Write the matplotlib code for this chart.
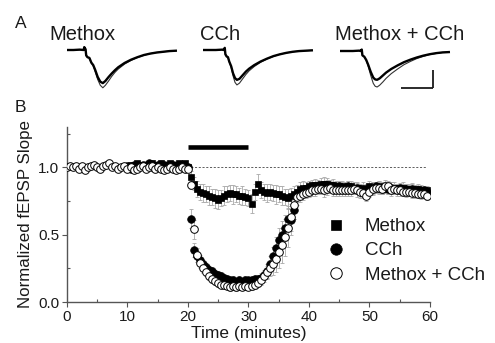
import numpy as np
import matplotlib
matplotlib.use("Agg")
import matplotlib.pyplot as plt

plt.rcParams['font.family'] = ['Liberation Sans', 'DejaVu Sans']

# ---------------- data: panel B ----------------
t_open = np.arange(0, 60, 0.5)
t_drug = np.arange(10, 60, 0.5)

methox_cch = [1.00,1.01,1.00,1.01,0.99,1.01,0.98,1.00,1.01,1.02,1.00,0.99,1.01,1.02,1.03,1.00,1.01,0.99,1.00,1.01,
              0.99,1.00,0.98,0.99,1.00,1.01,0.99,1.00,1.01,0.99,1.00,0.99,0.98,0.99,1.00,0.99,0.98,0.99,1.00,0.99,
              0.99,0.87,0.54,0.35,0.29,0.25,0.22,0.19,0.17,0.155,0.14,0.13,0.125,0.12,0.115,0.12,0.11,0.12,0.115,0.12,
              0.115,0.12,0.13,0.14,0.16,0.19,0.22,0.25,0.28,0.32,0.37,0.42,0.48,0.55,0.63,0.72,0.78,0.79,0.80,0.81,
              0.82,0.83,0.83,0.84,0.84,0.83,0.84,0.85,0.83,0.83,0.83,0.83,0.83,0.83,0.83,0.84,0.83,0.82,0.81,0.79,
              0.82,0.84,0.85,0.85,0.84,0.86,0.86,0.83,0.84,0.83,0.83,0.82,0.82,0.82,0.81,0.81,0.80,0.80,0.80,0.79]
methox_cch_err = [0.01,0.015,0.01,0.015,0.01,0.02,0.01,0.015,0.01,0.02,0.015,0.01,0.015,0.02,0.015,0.01,0.015,0.01,0.015,0.01,
                  0.02,0.015,0.025,0.02,0.015,0.02,0.02,0.015,0.02,0.015,0.02,0.015,0.02,0.015,0.02,0.015,0.02,0.015,0.02,0.015,
                  0.02,0.03,0.07,0.05,0.04,0.035,0.03,0.03,0.03,0.03,0.025,0.025,0.03,0.025,0.03,0.025,0.025,0.03,0.025,0.03,
                  0.025,0.03,0.03,0.03,0.035,0.04,0.05,0.06,0.08,0.10,0.12,0.13,0.14,0.14,0.13,0.10,0.06,0.05,0.04,0.04,
                  0.04,0.04,0.045,0.04,0.04,0.05,0.045,0.04,0.04,0.04,0.045,0.04,0.04,0.045,0.04,0.04,0.05,0.045,0.04,0.04,
                  0.04,0.045,0.04,0.05,0.04,0.045,0.04,0.04,0.035,0.04,0.04,0.035,0.04,0.035,0.04,0.035,0.03,0.035,0.03,0.03]

cch = [1.01,0.99,1.02,1.00,1.01,1.02,1.01,1.03,1.00,1.01,1.02,1.01,1.02,1.01,1.00,1.02,1.01,1.00,1.01,1.00,
       1.00,0.62,0.385,0.34,0.31,0.28,0.26,0.24,0.23,0.21,0.20,0.19,0.18,0.17,0.16,0.16,0.15,0.16,0.15,0.16,
       0.16,0.16,0.17,0.17,0.18,0.20,0.23,0.28,0.34,0.40,0.46,0.50,0.55,0.62,0.61,0.68,0.79,0.81,0.82,0.83,
       0.84,0.85,0.85,0.86,0.86,0.86,0.87,0.86,0.86,0.85,0.86,0.85,0.85,0.86,0.85,0.84,0.85,0.84,0.83,0.82,
       0.84,0.85,0.86,0.85,0.84,0.85,0.84,0.85,0.84,0.84,0.85,0.84,0.84,0.83,0.84,0.83,0.83,0.82,0.83,0.82]
cch_err = [0.02,0.025,0.02,0.02,0.025,0.02,0.02,0.025,0.02,0.02,0.025,0.02,0.02,0.025,0.02,0.02,0.025,0.02,0.02,0.02,
           0.02,0.07,0.05,0.04,0.04,0.035,0.03,0.03,0.03,0.03,0.03,0.03,0.025,0.03,0.025,0.03,0.025,0.03,0.025,0.03,
           0.025,0.03,0.03,0.03,0.035,0.04,0.05,0.06,0.07,0.08,0.09,0.10,0.10,0.09,0.08,0.06,0.05,0.04,0.04,0.035,
           0.035,0.04,0.035,0.04,0.035,0.04,0.035,0.04,0.035,0.04,0.035,0.04,0.035,0.04,0.035,0.04,0.035,0.04,0.035,0.04,
           0.035,0.04,0.035,0.04,0.035,0.04,0.035,0.04,0.035,0.04,0.035,0.04,0.035,0.04,0.035,0.04,0.035,0.04,0.035,0.035]

methox = [1.00,1.02,1.01,1.03,1.01,1.02,1.02,1.01,1.03,1.02,1.02,1.03,1.01,1.02,1.03,1.01,1.02,1.03,1.02,1.03,
          1.00,0.93,0.88,0.84,0.82,0.81,0.80,0.79,0.78,0.77,0.76,0.77,0.79,0.80,0.81,0.80,0.80,0.79,0.79,0.78,
          0.77,0.73,0.82,0.88,0.83,0.82,0.81,0.82,0.81,0.80,0.80,0.79,0.78,0.77,0.79,0.80,0.82,0.84,0.85,0.85,
          0.86,0.87,0.87,0.87,0.88,0.88,0.88,0.87,0.87,0.86,0.86,0.86,0.85,0.86,0.86,0.85,0.85,0.84,0.85,0.84,
          0.86,0.85,0.85,0.86,0.85,0.85,0.84,0.85,0.85,0.84,0.84,0.85,0.84,0.84,0.84,0.83,0.84,0.83,0.83,0.83]
methox_err = [0.03,0.02,0.03,0.02,0.025,0.02,0.03,0.02,0.025,0.02,0.02,0.025,0.02,0.025,0.02,0.02,0.025,0.02,0.02,0.02,
              0.02,0.04,0.05,0.06,0.06,0.07,0.06,0.07,0.06,0.07,0.07,0.06,0.07,0.06,0.06,0.07,0.06,0.06,0.07,0.06,
              0.06,0.07,0.06,0.07,0.06,0.06,0.07,0.06,0.06,0.07,0.06,0.07,0.06,0.07,0.06,0.06,0.05,0.05,0.05,0.045,
              0.04,0.04,0.045,0.04,0.04,0.045,0.04,0.04,0.045,0.04,0.04,0.04,0.045,0.04,0.04,0.045,0.04,0.04,0.045,0.04,
              0.04,0.045,0.04,0.04,0.045,0.04,0.04,0.045,0.04,0.04,0.04,0.045,0.04,0.04,0.045,0.04,0.04,0.04,0.035,0.035]

drug_start, drug_end, drug_bar_y = 20, 30, 1.15
baseline_level = 1.0

series_labels = ["Methox", "CCh", "Methox + CCh"]
x_ticks = [0, 10, 20, 30, 40, 50, 60]
y_ticks = [0.0, 0.5, 1.0]
y_tick_labels = ["0.0", "0.5", "1.0"]

# ---------------- data: panel A traces (ms, mV) ----------------
tr_methox_t = [0, 1, 2, 2.6, 2.7, 2.9, 3.0, 3.2, 3.5, 3.8, 4.1, 4.4, 4.8, 5.2, 5.6, 6.0, 6.5, 7.0, 7.5, 8.0, 9.0, 10, 11, 12, 13, 14, 15, 16, 17]
tr_methox_a = [0, 0, 0.01, 0.0, 0.08, 0.02, -0.15, -0.20, -0.22, -0.35, -0.42, -0.55, -0.75, -0.88, -0.92, -0.86, -0.75, -0.65, -0.56, -0.48, -0.36, -0.27, -0.20, -0.14, -0.10, -0.07, -0.05, -0.03, -0.02]
tr_methox_b = [0, 0, 0.01, 0.0, 0.08, 0.02, -0.15, -0.20, -0.22, -0.36, -0.44, -0.60, -0.82, -0.98, -1.05, -0.98, -0.86, -0.73, -0.62, -0.53, -0.39, -0.29, -0.21, -0.15, -0.10, -0.07, -0.05, -0.03, -0.02]

tr_cch_t = [0, 1, 2, 3.0, 3.2, 3.4, 3.5, 3.7, 3.9, 4.1, 4.4, 4.7, 5.0, 5.3, 5.7, 6.2, 6.7, 7.2, 8.0, 9.0, 10, 11, 12, 13, 14, 15, 16, 17]
tr_cch_a = [0, 0, 0, 0.01, 0.0, 0.06, -0.12, -0.18, -0.20, -0.32, -0.45, -0.65, -0.78, -0.83, -0.80, -0.70, -0.60, -0.52, -0.42, -0.32, -0.24, -0.17, -0.12, -0.08, -0.05, -0.03, -0.02, -0.01]
tr_cch_b = [0, 0, 0, 0.01, 0.0, 0.06, -0.12, -0.18, -0.20, -0.33, -0.48, -0.72, -0.90, -0.97, -0.92, -0.80, -0.68, -0.58, -0.46, -0.34, -0.25, -0.18, -0.12, -0.08, -0.05, -0.03, -0.02, -0.01]

tr_both_t = [0, 1, 2, 3.0, 3.2, 3.4, 3.5, 3.8, 4.1, 4.4, 4.8, 5.2, 5.5, 5.8, 6.2, 6.7, 7.2, 8.0, 9.0, 10, 11, 12, 13, 14, 15, 16, 17]
tr_both_a = [0, 0, 0, 0.01, 0.0, 0.04, -0.12, -0.16, -0.25, -0.38, -0.58, -0.74, -0.79, -0.80, -0.76, -0.68, -0.60, -0.50, -0.40, -0.31, -0.24, -0.18, -0.13, -0.09, -0.06, -0.04, -0.03]
tr_both_b = [0, 0, 0, 0.01, 0.0, 0.04, -0.12, -0.16, -0.26, -0.42, -0.68, -0.90, -0.98, -1.00, -0.95, -0.86, -0.76, -0.63, -0.50, -0.38, -0.29, -0.21, -0.15, -0.10, -0.07, -0.04, -0.03]

scale_ms, scale_mv = 5, 0.5

# ---------------- figure ----------------
W, H = 495, 343
fig = plt.figure(figsize=(W / 100, H / 100), dpi=100)
txt = '#1a1a1a'

def px_axes(x0, y_top, w, h):
    return fig.add_axes([x0 / W, (H - y_top - h) / H, w / W, h / H])

# panel A
PX_MS, PX_MV = 6.4, 36.0
trace_sets = [
    (tr_methox_t, tr_methox_a, tr_methox_b, 67, 50, "Methox", 49),
    (tr_cch_t, tr_cch_a, tr_cch_b, 203, 50, "CCh", 200),
    (tr_both_t, tr_both_a, tr_both_b, 340, 51, "Methox + CCh", 335),
]
ytop_mv, ybot_mv = 0.25, -1.25
for tt, va, vb, x0, base, lab, lx in trace_sets:
    ax_t = px_axes(x0, base - ytop_mv * PX_MV, 17.5 * PX_MS, (ytop_mv - ybot_mv) * PX_MV)
    ax_t.plot(tt, vb, color='#333333', lw=0.8, zorder=1)
    ax_t.plot(tt, va, color='black', lw=1.7, zorder=2)
    ax_t.set_xlim(0, 17.5)
    ax_t.set_ylim(ybot_mv, ytop_mv)
    ax_t.axis('off')
    fig.text(lx / W, 1 - 35 / H, lab, fontsize=14.5, color=txt, ha='left', va='center')
    if lab == "Methox + CCh":
        sb_x = 9.6
        sb_y = -1.03
        ax_t.plot([sb_x, sb_x + scale_ms], [sb_y, sb_y], color=txt, lw=1.3, solid_capstyle='butt')
        ax_t.plot([sb_x + scale_ms, sb_x + scale_ms], [sb_y, sb_y + scale_mv], color=txt, lw=1.3, solid_capstyle='butt')

fig.text(15 / W, 1 - 24 / H, "A", fontsize=12.5, color=txt, ha='left', va='center')
fig.text(15 / W, 1 - 108 / H, "B", fontsize=12.5, color=txt, ha='left', va='center')

# panel B
ax = px_axes(67, 127, 363, 175)
ecol = '#a8a8a8'
ax.errorbar(t_drug, methox, yerr=methox_err, fmt='none', ecolor=ecol, elinewidth=0.6, capsize=1.5, capthick=0.6, zorder=1)
ax.errorbar(t_drug, cch, yerr=cch_err, fmt='none', ecolor=ecol, elinewidth=0.6, capsize=1.5, capthick=0.6, zorder=1)
ax.errorbar(t_open, methox_cch, yerr=methox_cch_err, fmt='none', ecolor=ecol, elinewidth=0.6, capsize=1.5, capthick=0.6, zorder=1)

ax.plot(t_drug, methox, ls='none', marker='s', ms=4.8, mfc='black', mec='black', mew=0.5, zorder=3, label=series_labels[0])
ax.plot(t_drug, cch, ls='none', marker='o', ms=5.5, mfc='black', mec='black', mew=0.5, zorder=4, label=series_labels[1])
ax.plot(t_open, methox_cch, ls='none', marker='o', ms=5.5, mfc='white', mec='black', mew=0.7, zorder=5, label=series_labels[2])

ax.axhline(baseline_level, xmin=0, xmax=59.5 / 60, color='#444444', lw=0.6, ls=(0, (2.5, 2)), zorder=0)
ax.hlines(drug_bar_y, drug_start, drug_end, color='black', lw=3.3, zorder=6)

ax.set_xlim(0, 60)
ax.set_ylim(0, 1.3)
ax.set_xticks(x_ticks)
ax.set_xticks([5, 15, 25, 35, 45, 55], minor=True)
ax.set_yticks(y_ticks)
ax.set_yticklabels(y_tick_labels)
ax.set_yticks([0.25, 0.75, 1.25], minor=True)
for s in ['top', 'right']:
    ax.spines[s].set_visible(False)
for s in ['left', 'bottom']:
    ax.spines[s].set_color('#555555')
    ax.spines[s].set_linewidth(1.0)
ax.tick_params(which='major', direction='out', length=3.5, width=0.8, color='#555555',
               labelsize=11, labelcolor=txt, pad=2)
ax.tick_params(which='minor', direction='in', length=2.5, width=0.8, color='#555555')
ax.set_xlabel("Time (minutes)", fontsize=12.5, color=txt, labelpad=2)
ax.set_ylabel("Normalized fEPSP Slope", fontsize=12.2, color=txt, labelpad=4)

leg = ax.legend(loc='upper left', bbox_to_anchor=((329 - 67) / 363, (302 - 218) / 175),
                frameon=False, fontsize=13.5, handlelength=0.8, handletextpad=1.1,
                borderpad=0, borderaxespad=0, labelspacing=0.38, markerscale=1.5)
for tx in leg.get_texts():
    tx.set_color(txt)

fig.savefig("out.png", dpi=100)
